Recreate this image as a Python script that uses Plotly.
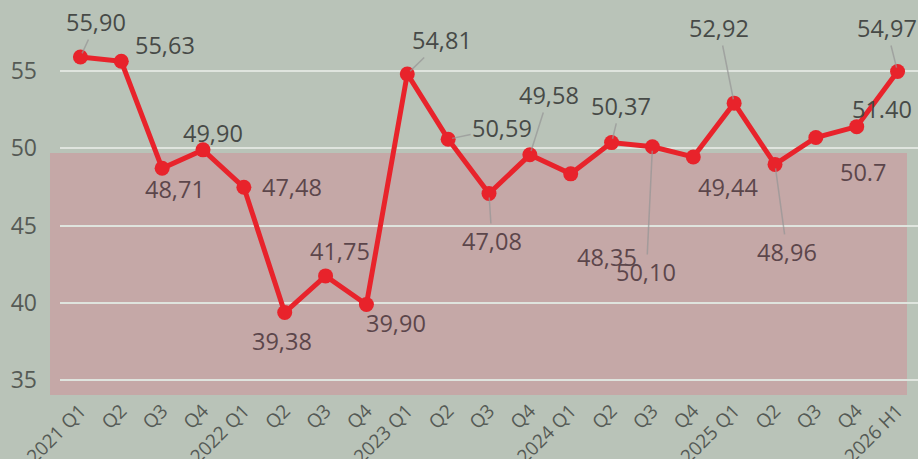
"""PMI-style quarterly index line chart"""

import plotly.graph_objects as go

PERIODS = [
    "2021 Q1", "Q2", "Q3", "Q4",
    "2022 Q1", "Q2", "Q3", "Q4",
    "2023 Q1", "Q2", "Q3", "Q4",
    "2024 Q1", "Q2", "Q3", "Q4",
    "2025 Q1", "Q2", "Q3", "Q4",
    "2026 H1",
]
VALUES = [
    55.90, 55.63, 48.71, 49.90,
    47.48, 39.38, 41.75, 39.90,
    54.81, 50.59, 47.08, 49.58,
    48.35, 50.37, 50.10, 49.44,
    52.92, 48.96, 50.7, 51.40,
    54.97,
]
LABELS = [
    "55,90", "55,63", "48,71", "49,90",
    "47,48", "39,38", "41,75", "39,90",
    "54,81", "50,59", "47,08", "49,58",
    "48,35", "50,37", "50,10", "49,44",
    "52,92", "48,96", "50.7", "51.40",
    "54,97",
]
Y_TICKS = [35, 40, 45, 50, 55]
BAND_TOP = 49.7

# label placement: x offset in px, y position in axis units
LABEL_DX = [16, 44, 13, 10, 48, -3, 14, 30, 35, 54, 3, 19,
            36, 9, -6, 35, -15, 12, 47, 25, -11]
LABEL_Y = [58.17, 56.68, 47.37, 50.99, 47.50, 37.54, 43.36, 38.70,
           57.00, 51.31, 44.01, 53.45, 43.0, 52.74, 42.00, 47.50,
           57.78, 43.30, 48.47, 52.54, 57.78]
LEADERS = {0, 8, 9, 10, 11, 13, 14, 16, 17, 20}

RED = "#e8232b"
FONT = "Open Sans"

x = list(range(len(PERIODS)))

fig = go.Figure(go.Scatter(
    x=x,
    y=VALUES,
    mode="lines+markers",
    line=dict(color=RED, width=5),
    marker=dict(color=RED, size=15),
    hoverinfo="skip",
))

annotations = []
for i, (txt, dx, ly) in enumerate(zip(LABELS, LABEL_DX, LABEL_Y)):
    in_band = ly < BAND_TOP
    annotations.append(dict(
        x=x[i], y=VALUES[i], xref="x", yref="y",
        ax=dx, ay=ly, axref="pixel", ayref="y",
        text=txt,
        showarrow=True,
        arrowhead=0,
        arrowwidth=1.5,
        arrowcolor="rgba(150,150,150,0.7)" if i in LEADERS else "rgba(0,0,0,0)",
        standoff=4,
        font=dict(family=FONT, size=23.5,
                  color="#5c464b" if in_band else "#474a47"),
    ))

# top tick that sits just outside the visible area
annotations.append(dict(
    x=-25 / 858, xref="paper", xanchor="right",
    y=60, yref="y", yanchor="middle",
    text="60", showarrow=False,
    font=dict(family=FONT, size=23, color="#555a55"),
))

fig.update_layout(
    width=918,
    height=459,
    margin=dict(l=60, r=0, t=0, b=64),
    paper_bgcolor="#b9c3b8",
    plot_bgcolor="rgba(0,0,0,0)",
    showlegend=False,
    font=dict(family=FONT, color="#555a55"),
    xaxis=dict(
        range=[-0.5, len(PERIODS) - 0.5],
        tickvals=x,
        ticktext=PERIODS,
        tickangle=-45,
        tickfont=dict(size=19, color="#555a55"),
        showgrid=False,
        zeroline=False,
        showline=False,
        automargin=False,
    ),
    yaxis=dict(
        range=[34.05, 59.59],
        tickvals=Y_TICKS,
        tickfont=dict(size=23, color="#555a55"),
        showgrid=True,
        gridcolor="#dfe4de",
        gridwidth=2,
        zeroline=False,
        showline=False,
        ticklabelstandoff=22,
        automargin=False,
    ),
    shapes=[dict(
        type="rect",
        xref="paper", yref="y",
        x0=-10 / 858, x1=847 / 858,
        y0=34.05, y1=BAND_TOP,
        fillcolor="rgba(214,128,142,0.4)",
        line=dict(width=0),
        layer="between",
    )],
    annotations=annotations,
)

fig.write_html(
    "out.html",
    config={"displayModeBar": False},
    post_script="document.body.style.margin = '0';",
)
